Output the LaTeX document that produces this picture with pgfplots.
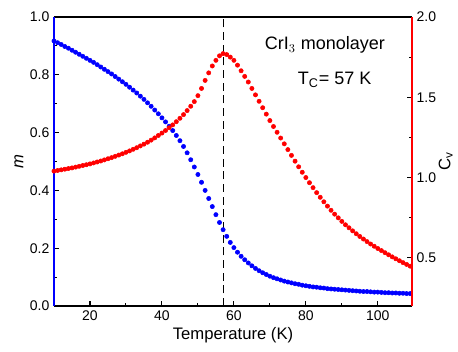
\documentclass[border=0pt]{standalone}
\usepackage{pgfplots}
\pgfplotsset{compat=1.18}
\usepackage{pgfplotstable}
\usepackage{fontspec}
\setmainfont{Liberation Sans}
\pgfplotstableread{
T m
10 0.917
11 0.911
12 0.905
13 0.898
14 0.892
15 0.885
16 0.878
17 0.871
18 0.864
19 0.857
20 0.850
21 0.843
22 0.835
23 0.827
24 0.819
25 0.811
26 0.803
27 0.794
28 0.785
29 0.776
30 0.767
31 0.757
32 0.747
33 0.737
34 0.726
35 0.715
36 0.703
37 0.691
38 0.678
39 0.665
40 0.651
41 0.637
42 0.622
43 0.607
44 0.590
45 0.572
46 0.552
47 0.530
48 0.506
49 0.481
50 0.455
51 0.428
52 0.400
53 0.372
54 0.344
55 0.316
56 0.289
57 0.264
58 0.241
59 0.220
60 0.202
61 0.186
62 0.172
63 0.160
64 0.149
65 0.139
66 0.130
67 0.122
68 0.115
69 0.109
70 0.103
71 0.098
72 0.094
73 0.090
74 0.086
75 0.083
76 0.080
77 0.077
78 0.075
79 0.072
80 0.070
81 0.068
82 0.066
83 0.065
84 0.063
85 0.062
86 0.060
87 0.059
88 0.058
89 0.057
90 0.056
91 0.055
92 0.054
93 0.053
94 0.052
95 0.051
96 0.050
97 0.050
98 0.049
99 0.048
100 0.048
101 0.047
102 0.046
103 0.046
104 0.045
105 0.045
106 0.044
107 0.044
108 0.043
109 0.043
}\mdata
\pgfplotstableread{
T Cv
10 1.040
11 1.044
12 1.048
13 1.052
14 1.056
15 1.060
16 1.065
17 1.070
18 1.075
19 1.080
20 1.085
21 1.091
22 1.097
23 1.103
24 1.110
25 1.117
26 1.124
27 1.132
28 1.140
29 1.148
30 1.157
31 1.166
32 1.176
33 1.186
34 1.197
35 1.208
36 1.220
37 1.233
38 1.247
39 1.262
40 1.277
41 1.293
42 1.310
43 1.328
44 1.348
45 1.369
46 1.392
47 1.417
48 1.444
49 1.473
50 1.510
51 1.555
52 1.605
53 1.652
54 1.695
55 1.730
56 1.758
57 1.772
58 1.766
59 1.750
60 1.730
61 1.700
62 1.665
63 1.630
64 1.595
65 1.555
66 1.515
67 1.475
68 1.435
69 1.395
70 1.355
71 1.318
72 1.282
73 1.246
74 1.210
75 1.174
76 1.138
77 1.102
78 1.067
79 1.033
80 1.000
81 0.968
82 0.937
83 0.906
84 0.877
85 0.849
86 0.822
87 0.796
88 0.772
89 0.749
90 0.727
91 0.706
92 0.687
93 0.668
94 0.650
95 0.633
96 0.617
97 0.601
98 0.586
99 0.572
100 0.558
101 0.545
102 0.532
103 0.519
104 0.506
105 0.494
106 0.482
107 0.470
108 0.459
109 0.448
}\cvdata
\begin{document}
\begin{tikzpicture}
\useasboundingbox (-40.5pt,-34.5pt) rectangle (303pt,229.5pt);
\pgfplotsset{
  common/.style={
    width=268.5pt, height=216.75pt, scale only axis,
    xmin=10, xmax=109.5,
    tick align=inside,
    major tick length=4pt, minor tick length=2.5pt,
    tick style={black, line width=0.8pt},
    every tick label/.append style={font=\fontsize{10.5}{12}\selectfont},
    /pgf/number format/assume math mode=true,
  }
}
\begin{axis}[common,
  ymin=0, ymax=1,
  axis y line*=left,
  y axis line style={blue, line width=1.3pt},
  x axis line style={black, line width=1.3pt},
  xtick={20,40,60,80,100},
  minor x tick num=1,
  xtick pos=bottom,
  ytick={0,0.2,0.4,0.6,0.8,1.0},
  minor y tick num=1,
  yticklabel style={/pgf/number format/.cd, fixed, fixed zerofill, precision=1},
  xlabel={Temperature (K)},
  ylabel={\itshape m},
  xlabel style={font=\fontsize{12.5}{14}\selectfont, yshift=2pt},
  ylabel style={font=\fontsize{12.5}{14}\selectfont, yshift=-2pt},
]
\addplot[blue, only marks, mark=*, mark size=1.6pt, mark options={draw=blue, fill=blue}] table[x=T, y=m] {\mdata};
\addplot[black, dashed, line width=0.8pt, dash pattern=on 6pt off 3.5pt] coordinates {(57,0) (57,1)};
\node[font=\fontsize{13.5}{15}\selectfont] at (axis cs:85.3,0.903) {CrI$_3$ monolayer};
\node[font=\fontsize{13.5}{15}\selectfont] at (axis cs:88,0.782) {T$_\mathrm{C}$= 57 K};
\end{axis}
\begin{axis}[common,
  ymin=0.2, ymax=2.0,
  axis y line*=right,
  axis x line=none,
  y axis line style={red, line width=1.3pt},
  ytick={0.5,1.0,1.5,2.0},
  minor y tick num=1,
  yticklabel style={/pgf/number format/.cd, fixed, fixed zerofill, precision=1},
  ylabel={C\textsubscript{v}},
  ylabel style={font=\fontsize{12.5}{14}\selectfont, yshift=5pt},
]
\addplot[red, only marks, mark=*, mark size=1.6pt, mark options={draw=red, fill=red}] table[x=T, y=Cv] {\cvdata};
\end{axis}
\end{tikzpicture}
\end{document}
